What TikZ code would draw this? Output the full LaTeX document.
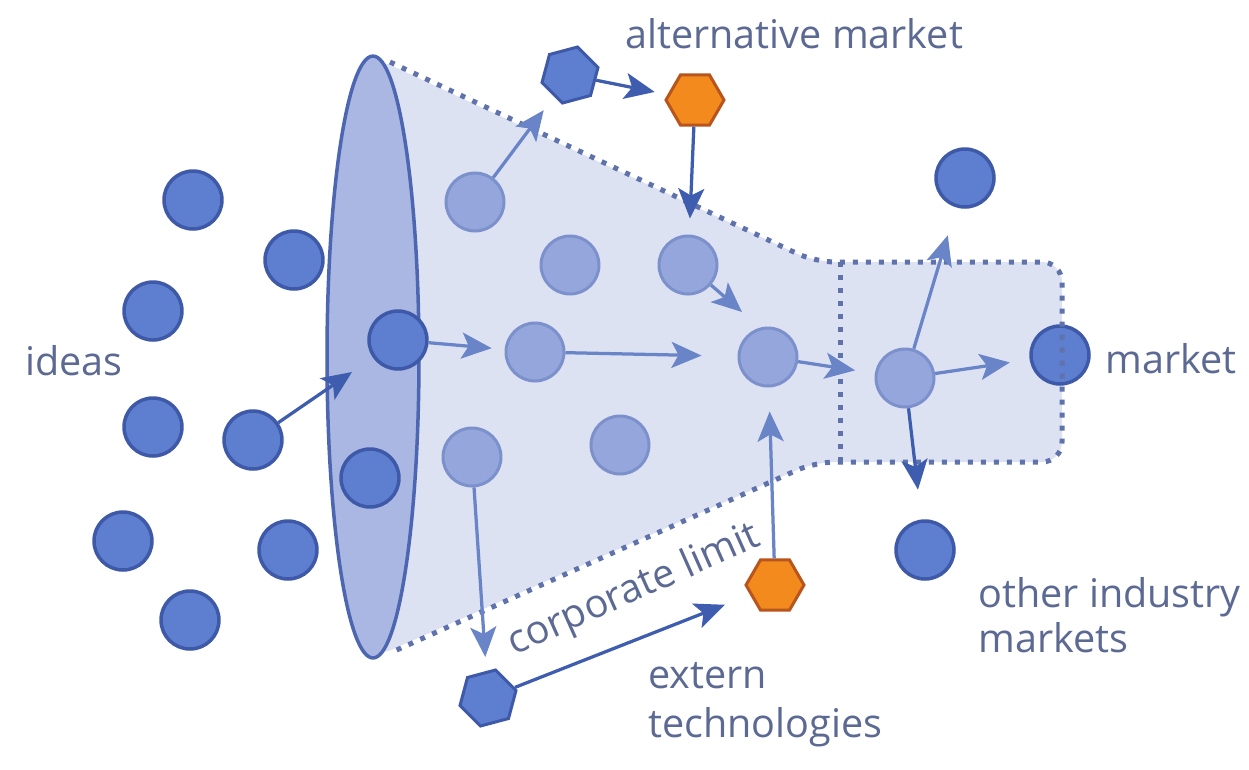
\documentclass[tikz,border=0pt]{standalone}
\usepackage{fontspec}
\setmainfont{Open Sans}
\usetikzlibrary{shapes.geometric,arrows.meta}
\definecolor{darkc}{HTML}{5E7ED0}
\definecolor{darkcs}{HTML}{3D59A8}
\definecolor{lightc}{HTML}{94A6DB}
\definecolor{lightcs}{HTML}{7C91CC}
\definecolor{funnelc}{HTML}{DDE2F3}
\definecolor{mouthc}{HTML}{A9B7E2}
\definecolor{linec}{HTML}{4D66B1}
\definecolor{dotc}{HTML}{5F72AC}
\definecolor{arrowd}{HTML}{3F5DAE}
\definecolor{arrowl}{HTML}{6A84C8}
\definecolor{txtc}{HTML}{5C6A93}
\definecolor{orfill}{HTML}{F28A1E}
\definecolor{orline}{HTML}{B8541C}
\begin{document}
\begin{tikzpicture}[x=0.02cm,y=-0.02cm,
  idea/.style={circle,draw=darkcs,fill=darkc,line width=0.07cm,minimum size=1.16cm,inner sep=0pt},
  inner/.style={circle,draw=lightcs,fill=lightc,line width=0.06cm,minimum size=1.16cm,inner sep=0pt},
  hexb/.style={regular polygon,regular polygon sides=6,draw=darkcs,fill=darkc,line width=0.06cm,minimum size=1.16cm,inner sep=0pt,rotate=15},
  hexo/.style={regular polygon,regular polygon sides=6,draw=orline,fill=orfill,line width=0.06cm,minimum size=1.16cm,inner sep=0pt},
  darr/.style={draw=arrowd,line width=0.065cm,-{Stealth[length=0.6cm,width=0.52cm,inset=0.14cm]}},
  larr/.style={draw=arrowl,line width=0.065cm,-{Stealth[length=0.6cm,width=0.52cm,inset=0.14cm]}},
  dotline/.style={draw=dotc,line width=0.1cm,dash pattern=on 0.1cm off 0.16cm},
  lbl/.style={text=txtc,font=\fontsize{22.5}{26}\selectfont,inner sep=0pt,anchor=base west}]
\useasboundingbox (0,0) rectangle (1249,769);
\fill[white] (0,0) rectangle (1249,769);

% funnel body
\fill[funnelc,rounded corners=0.4cm] (373,57) -- (815,262) -- (1062,262) -- (1062,462) -- (815,462) -- (373,658) -- cycle;
\draw[draw=linec,fill=mouthc,line width=0.07cm] (373,357) ellipse [x radius=0.92cm,y radius=6.02cm];

% ideas outside
\node[idea] (i1) at (193,200) {};
\node[idea] (i2) at (294,260) {};
\node[idea] (i3) at (153,311) {};
\node[idea] (i4) at (153,427) {};
\node[idea] (i5) at (253,440) {};
\node[idea] (i6) at (123,541) {};
\node[idea] (i7) at (288,550) {};
\node[idea] (i8) at (190,620) {};
\node[idea] (e1) at (398,340) {};
\node[idea] (e2) at (370,478) {};

% inside funnel
\node[inner] (f1) at (475,202) {};
\node[inner] (f2a) at (570,265) {};
\node[inner] (f2b) at (688,265) {};
\node[inner] (f3) at (535,352) {};
\node[inner] (f5) at (768,357) {};
\node[inner] (f6) at (620,445) {};
\node[inner] (f7) at (472,457) {};
\node[inner] (g) at (905,378) {};

% markets
\node[idea] (tc) at (965,178) {};
\node[idea] (bc) at (925,550) {};
\node[idea] (mk) at (1060,355) {};

% dotted limits
\draw[dotline,rounded corners=0.4cm] (390,62) -- (815,262) -- (1062,262) -- (1062,462) -- (815,462) -- (390,653);
\draw[dotline] (840,262) -- (840,462);

% hexagons
\node[hexb] (hb1) at (570,75) {};
\node[hexo] (ho1) at (695,100) {};
\node[hexo] (ho2) at (775,585) {};
\node[hexb] (hb2) at (488,698) {};

% free arrow ends
\coordinate (ta) at (352,372);
\coordinate (tb) at (742,312);

% arrows
\draw[darr] (i5) -- (ta);
\draw[larr,shorten >=0.26cm] (e1) -- (f3);
\draw[larr,shorten >=0.72cm] (f3) -- (f5);
\draw[larr] (f2b) -- (tb);
\draw[larr,shorten >=0.4cm] (f5) -- (g);
\draw[larr,shorten >=0.4cm] (g) -- (mk);
\draw[larr,shorten >=0.58cm] (g) -- (tc);
\draw[darr,shorten >=0.6cm] (g) -- (bc);
\draw[larr,shorten >=0.34cm] (f1) -- (hb1);
\draw[darr,shorten >=0.26cm] (hb1) -- (ho1);
\draw[darr,shorten >=0.32cm] (ho1) -- (f2b);
\draw[larr,shorten >=0.28cm] (f7) -- (hb2);
\draw[darr,shorten >=0.54cm] (hb2) -- (ho2);
\draw[larr,shorten >=0.48cm] (ho2) -- (f5);

% labels
\node[lbl] (lalt) at (625,48) {alternative market};
\node[lbl] (lideas) at (25,375) {ideas};
\node[lbl] (lmk) at (1105,373) {market};
\node[lbl] (loth1) at (978,607) {other industry};
\node[lbl] (loth2) at (978,652) {markets};
\node[lbl] (lext1) at (648,688) {extern};
\node[lbl] (lext2) at (648,737) {technologies};
\node[text=txtc,font=\fontsize{22.5}{26}\selectfont,inner sep=0pt,rotate=24] (lcorp) at (634,591) {corporate limit};
\end{tikzpicture}
\end{document}
